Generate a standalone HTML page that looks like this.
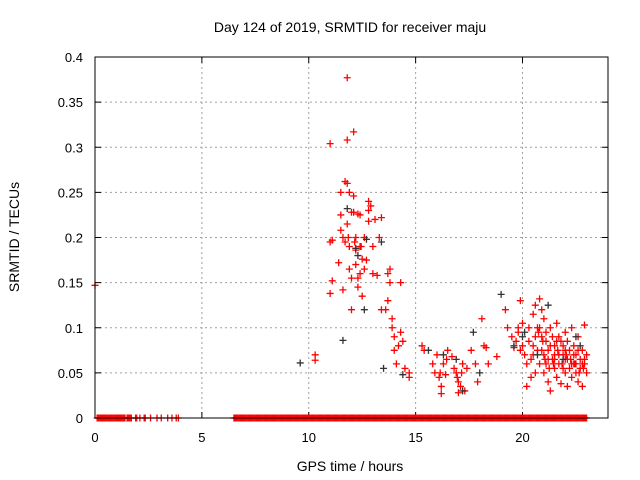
<!DOCTYPE html>
<html><head><meta charset="utf-8"><style>
body{margin:0;background:#fff;}
svg{display:block;font-family:"Liberation Sans",sans-serif;}
</style></head><body>
<svg id="chart" width="640" height="480">
<text x="350" y="32" text-anchor="middle" font-size="14">Day 124 of 2019, SRMTID for receiver maju</text>
<text transform="translate(19,237) rotate(-90)" text-anchor="middle" font-size="14">SRMTID / TECUs</text>
<text x="350" y="471" text-anchor="middle" font-size="14">GPS time / hours</text>
<g id="grid"></g><g id="ticks"></g><g id="marks"></g>
<rect x="95" y="57" width="513" height="361" fill="none" stroke="#000" stroke-width="1"/>
</svg>
<script>
const xTicks=[0,5,10,15,20];
const yTicks=[0,0.05,0.1,0.15,0.2,0.25,0.3,0.35,0.4];
const yTickLabels=["0","0.05","0.1","0.15","0.2","0.25","0.3","0.35","0.4"];
const redT=[0,10.3,10.3,11.0,11.0,11.0,11.1,11.1,11.4,11.5,11.5,11.5,11.6,11.6,11.7,11.7,11.8,11.8,11.8,11.8,11.9,11.9,11.9,12.0,12.0,12.0,12.1,12.1,12.1,12.2,12.2,12.2,12.3,12.3,12.3,12.4,12.4,12.4,12.5,12.5,12.6,12.6,12.7,12.8,12.8,12.8,12.9,13.0,13.0,13.1,13.2,13.3,13.4,13.4,13.6,13.7,13.7,13.8,13.8,13.9,13.9,14.0,14.0,14.1,14.2,14.3,14.3,14.4,14.5,14.7,14.7,15.3,15.4,15.8,15.9,16.0,16.1,16.2,16.2,16.3,16.4,16.5,16.7,16.8,16.9,17.0,17.0,17.1,17.2,17.3,17.4,17.6,17.8,17.9,18.1,18.2,18.3,18.4,18.8,19.2,19.3,19.5,19.6,19.7,19.8,19.9,20.0,20.1,20.2,20.3,20.4,20.4,20.5,20.6,20.7,20.7,20.8,20.8,20.9,20.9,21.0,21.0,21.0,21.1,21.1,21.2,21.2,21.3,21.3,21.4,21.4,21.5,21.5,21.6,21.6,21.7,21.7,21.8,21.8,21.9,21.9,22.0,22.0,22.1,22.1,22.2,22.2,22.3,22.3,22.4,22.4,22.5,22.5,22.6,22.6,22.7,22.7,22.8,22.8,22.9,22.9,23.0,23.0,22.0,21.5,20.5,20.6,
19.8,19.9,20.0,20.2,20.3,20.5,20.6,20.8,20.9,21.1,21.2,21.3,21.5,21.6,21.7,21.9,22.0,22.1,22.3,22.4,22.5,22.6,22.8,22.9,21.05,21.25,21.45,21.65,21.85,22.05,22.25,22.45,22.65,22.85,20.95,20.75,16.15,16.45,16.95,17.15,12.15,12.45,11.85];
const redV=[0.147,0.07,0.064,0.304,0.138,0.195,0.197,0.152,0.172,0.25,0.225,0.208,0.142,0.2,0.262,0.195,0.377,0.308,0.26,0.215,0.25,0.19,0.165,0.228,0.155,0.12,0.317,0.246,0.228,0.2,0.186,0.17,0.226,0.155,0.145,0.225,0.19,0.16,0.135,0.176,0.2,0.165,0.175,0.24,0.23,0.218,0.235,0.19,0.16,0.22,0.158,0.2,0.222,0.12,0.12,0.13,0.16,0.165,0.15,0.11,0.1,0.09,0.075,0.06,0.08,0.15,0.095,0.085,0.055,0.05,0.045,0.08,0.075,0.06,0.05,0.07,0.045,0.035,0.027,0.06,0.048,0.075,0.068,0.055,0.05,0.04,0.028,0.035,0.06,0.03,0.055,0.075,0.06,0.04,0.11,0.08,0.078,0.06,0.068,0.12,0.1,0.09,0.078,0.085,0.1,0.13,0.105,0.07,0.035,0.085,0.065,0.045,0.115,0.125,0.1,0.075,0.132,0.06,0.12,0.09,0.11,0.07,0.05,0.085,0.06,0.04,0.075,0.1,0.03,0.065,0.09,0.055,0.08,0.045,0.105,0.07,0.06,0.085,0.038,0.07,0.055,0.05,0.095,0.065,0.035,0.075,0.055,0.1,0.045,0.06,0.08,0.05,0.07,0.04,0.09,0.065,0.055,0.075,0.035,0.103,0.06,0.05,0.07,0.065,0.065,0.08,0.05,
0.095,0.075,0.08,0.06,0.1,0.07,0.09,0.1,0.075,0.095,0.065,0.08,0.07,0.085,0.09,0.08,0.075,0.085,0.06,0.07,0.06,0.075,0.06,0.065,0.065,0.055,0.06,0.075,0.06,0.07,0.065,0.06,0.05,0.055,0.085,0.095,0.05,0.065,0.045,0.05,0.195,0.19,0.2];
const blackT=[9.6,11.6,11.8,12.2,12.3,12.7,13.4,12.6,13.5,14.4,15.6,16.3,16.9,17.2,17.7,19.0,19.6,20.0,20.7,21.2,21.9,22.5,22.7,20.1,18.0];
const blackV=[0.061,0.086,0.232,0.188,0.18,0.198,0.195,0.12,0.055,0.048,0.075,0.07,0.065,0.03,0.095,0.137,0.08,0.09,0.07,0.125,0.065,0.09,0.08,0.095,0.05];
const zeroT=[0.1,0.15,0.2,0.25,0.3,0.35,0.4,0.45,0.5,0.55,0.6,0.65,0.7,0.75,0.8,0.85,0.9,0.95,1.0,1.05,1.1,1.15,1.2,1.25,1.3,1.35,1.4,1.5,1.55,1.6,1.65,1.7,1.9,1.95,2.1,2.3,2.35,2.6,2.9,3.1,3.4,3.6,3.8,3.9,
6.5,6.55,6.6,6.65,6.7,6.75,6.8,6.85,6.9,6.95,7.0,7.05,7.1,7.15,7.2,7.25,7.3,7.35,7.4,7.45,7.5,7.55,7.6,7.65,7.7,7.75,7.8,7.85,7.9,7.95,
8.0,8.05,8.1,8.15,8.2,8.25,8.3,8.35,8.4,8.45,8.5,8.55,8.6,8.65,8.7,8.75,8.8,8.85,8.9,8.95,9.0,9.05,9.1,9.15,9.2,9.25,9.3,9.35,9.4,9.45,
9.5,9.55,9.6,9.65,9.7,9.75,9.8,9.85,9.9,9.95,10.0,10.05,10.1,10.15,10.2,10.25,10.3,10.35,10.4,10.45,10.5,10.55,10.6,10.65,10.7,10.75,10.8,10.85,10.9,10.95,
11.0,11.05,11.1,11.15,11.2,11.25,11.3,11.35,11.4,11.45,11.5,11.55,11.6,11.65,11.7,11.75,11.8,11.85,11.9,11.95,12.0,12.05,12.1,12.15,12.2,12.25,12.3,12.35,12.4,12.45,
12.5,12.55,12.6,12.65,12.7,12.75,12.8,12.85,12.9,12.95,13.0,13.05,13.1,13.15,13.2,13.25,13.3,13.35,13.4,13.45,13.5,13.55,13.6,13.65,13.7,13.75,13.8,13.85,13.9,13.95,
14.0,14.05,14.1,14.15,14.2,14.25,14.3,14.35,14.4,14.45,14.5,14.55,14.6,14.65,14.7,14.75,14.8,14.85,14.9,14.95,15.0,15.05,15.1,15.15,15.2,15.25,15.3,15.35,15.4,15.45,
15.5,15.55,15.6,15.65,15.7,15.75,15.8,15.85,15.9,15.95,16.0,16.05,16.1,16.15,16.2,16.25,16.3,16.35,16.4,16.45,16.5,16.55,16.6,16.65,16.7,16.75,16.8,16.85,16.9,16.95,
17.0,17.05,17.1,17.15,17.2,17.25,17.3,17.35,17.4,17.45,17.5,17.55,17.6,17.65,17.7,17.75,17.8,17.85,17.9,17.95,18.0,18.05,18.1,18.15,18.2,18.25,18.3,18.35,18.4,18.45,
18.5,18.55,18.6,18.65,18.7,18.75,18.8,18.85,18.9,18.95,19.0,19.05,19.1,19.15,19.2,19.25,19.3,19.35,19.4,19.45,19.5,19.55,19.6,19.65,19.7,19.75,19.8,19.85,19.9,19.95,
20.0,20.05,20.1,20.15,20.2,20.25,20.3,20.35,20.4,20.45,20.5,20.55,20.6,20.65,20.7,20.75,20.8,20.85,20.9,20.95,21.0,21.05,21.1,21.15,21.2,21.25,21.3,21.35,21.4,21.45,
21.5,21.55,21.6,21.65,21.7,21.75,21.8,21.85,21.9,21.95,22.0,22.05,22.1,22.15,22.2,22.25,22.3,22.35,22.4,22.45,22.5,22.55,22.6,22.65,22.7,22.75,22.8,22.85,22.9,22.95,23.0];
const X=t=>95+t*(513/24);
const Y=v=>418-v*(361/0.4);
const NS="http://www.w3.org/2000/svg";
function mk(tag,attrs,parent){const e=document.createElementNS(NS,tag);for(const k in attrs)e.setAttribute(k,attrs[k]);parent.appendChild(e);return e;}
const grid=document.getElementById('grid'),ticks=document.getElementById('ticks'),marks=document.getElementById('marks');
xTicks.forEach(t=>{
  if(t>0){const g=mk('line',{x1:X(t),x2:X(t),y1:57,y2:418,stroke:'#a0a0a0','stroke-dasharray':'2,3'},grid);
  
  }
  mk('line',{x1:X(t),x2:X(t),y1:418,y2:412,stroke:'#000'},ticks);
  mk('line',{x1:X(t),x2:X(t),y1:57,y2:63,stroke:'#000'},ticks);
  const l=mk('text',{x:X(t),y:442,'text-anchor':'middle','font-size':13},ticks);l.textContent=t;
  
  
});
yTicks.forEach((v,i)=>{
  if(v>0&&v<0.4){const g=mk('line',{x1:95,x2:608,y1:Y(v),y2:Y(v),stroke:'#a0a0a0','stroke-dasharray':'2,3'},grid);
  
  }
  mk('line',{x1:95,x2:101,y1:Y(v),y2:Y(v),stroke:'#000'},ticks);
  mk('line',{x1:608,x2:602,y1:Y(v),y2:Y(v),stroke:'#000'},ticks);
  const l=mk('text',{x:83,y:Y(v)+5,'text-anchor':'end','font-size':13},ticks);l.textContent=yTickLabels[i];
  
  
});
function cross(t,v,col,name){
  const x=X(t),y=Y(v);
  const p=mk('path',{d:`M${x-3.5},${y}H${x+3.5}M${x},${y-3.5}V${y+3.5}`,stroke:col,'stroke-width':1.3,fill:'none'},marks);
  
  
}
zeroT.forEach(t=>cross(t,0,'#ff0000','zero-point'));
redT.forEach((t,i)=>cross(t,redV[i],'#ff0000','red-point'));
blackT.forEach((t,i)=>cross(t,blackV[i],'#333','black-point'));
</script>
</body></html>
